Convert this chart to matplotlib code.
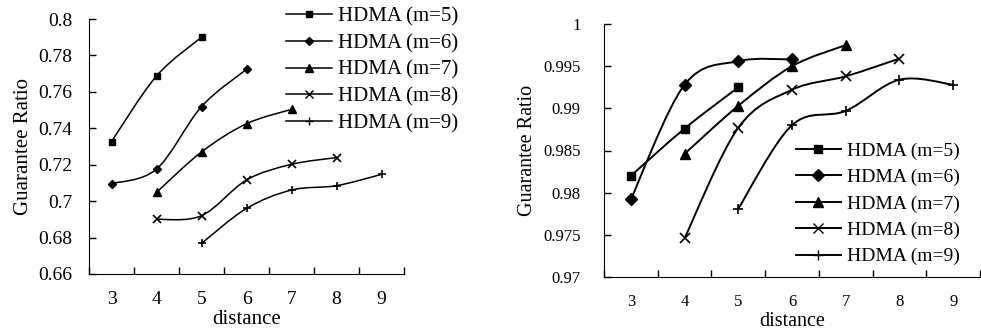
import matplotlib.pyplot as plt
from matplotlib.path import Path
from matplotlib.patches import PathPatch
from matplotlib.lines import Line2D
from matplotlib.ticker import FixedLocator, NullFormatter, FixedFormatter

plt.rcParams['font.family'] = ['Liberation Serif', 'DejaVu Serif']

# категории по оси x
distances = [3, 4, 5, 6, 7, 8, 9]
labels = ["HDMA (m=5)", "HDMA (m=6)", "HDMA (m=7)", "HDMA (m=8)", "HDMA (m=9)"]
markers = ["s", "D", "^", "x", "+"]

# левый график
left_x = [[3, 4, 5], [3, 4, 5, 6], [4, 5, 6, 7], [4, 5, 6, 7, 8], [5, 6, 7, 8, 9]]
left_y = [
    [0.7327, 0.7687, 0.7900],
    [0.7096, 0.7176, 0.7519, 0.7724],
    [0.7048, 0.7270, 0.7425, 0.7504],
    [0.6900, 0.6920, 0.7116, 0.7202, 0.7239],
    [0.6768, 0.6960, 0.7061, 0.7085, 0.7147],
]

# правый график
right_x = [[3, 4, 5], [3, 4, 5, 6], [4, 5, 6, 7], [4, 5, 6, 7, 8], [5, 6, 7, 8, 9]]
right_y = [
    [0.9820, 0.9876, 0.9925],
    [0.9792, 0.9928, 0.9956, 0.9958],
    [0.9846, 0.9903, 0.9950, 0.9975],
    [0.9746, 0.9877, 0.9922, 0.9938, 0.9959],
    [0.9781, 0.9880, 0.9897, 0.9934, 0.9928],
]


def smooth_path(xs, ys):
    """Сглаженная линия как в Excel (кривые Безье)"""
    pts = list(zip(xs, ys))
    verts = [pts[0]]
    codes = [Path.MOVETO]
    n = len(pts)
    for i in range(n - 1):
        p0 = pts[i - 1] if i > 0 else pts[i]
        p1 = pts[i]
        p2 = pts[i + 1]
        p3 = pts[i + 2] if i + 2 < n else pts[i + 1]
        c1 = (p1[0] + (p2[0] - p0[0]) / 6, p1[1] + (p2[1] - p0[1]) / 6)
        c2 = (p2[0] - (p3[0] - p1[0]) / 6, p2[1] - (p3[1] - p1[1]) / 6)
        verts += [c1, c2, p2]
        codes += [Path.CURVE4] * 3
    return Path(verts, codes)


def msz(m, base):
    return base * 1.3 if m in ("x", "+", "^") else base


def draw(ax, xs_all, ys_all, ylim, yticks, msize, tick_fs, ypad, lab_fs, lw):
    for xs, ys, m in zip(xs_all, ys_all, markers):
        ax.add_patch(PathPatch(smooth_path(xs, ys), fill=False,
                               edgecolor="black", lw=lw, zorder=2))
        mew = 1.2 if m in ("x", "+") else 1
        ax.plot(xs, ys, linestyle="none", marker=m, color="black",
                markersize=msz(m, msize), markeredgewidth=mew, zorder=3,
                clip_on=False)
    ax.set_xlim(2.5, 9.5)
    ax.set_ylim(*ylim)
    ax.spines["top"].set_visible(False)
    ax.spines["right"].set_visible(False)
    ax.xaxis.set_major_locator(FixedLocator([d + 0.5 for d in distances[:-1]]
                                            + [2.5, 9.5]))
    ax.xaxis.set_major_formatter(NullFormatter())
    ax.xaxis.set_minor_locator(FixedLocator(distances))
    ax.xaxis.set_minor_formatter(FixedFormatter([str(d) for d in distances]))
    ax.tick_params(axis="x", which="major", direction="in", length=5, width=1)
    ax.tick_params(axis="x", which="minor", length=0, labelsize=tick_fs, pad=12)
    ax.set_yticks(yticks)
    ax.set_yticklabels([("%.3f" % v).rstrip("0").rstrip(".") for v in yticks])
    ax.tick_params(axis="y", direction="in", length=5, width=1,
                   labelsize=tick_fs, pad=ypad)
    ax.set_xlabel("distance", fontsize=lab_fs, labelpad=2)
    ax.set_ylabel("Guarantee Ratio", fontsize=lab_fs, labelpad=4)


fig = plt.figure(figsize=(9.81, 3.33), dpi=100)
ax1 = fig.add_axes([89 / 981, 59 / 333, 315 / 981, 255 / 333])
ax2 = fig.add_axes([604 / 981, 56 / 333, 376 / 981, 253 / 333])

draw(ax1, left_x, left_y, (0.66, 0.8),
     [0.66, 0.68, 0.7, 0.72, 0.74, 0.76, 0.78, 0.8], 4.5, 14, 12, 15, 1.1)
draw(ax2, right_x, right_y, (0.97, 1.0),
     [0.97, 0.975, 0.98, 0.985, 0.99, 0.995, 1.0], 6, 12, 17, 14.5, 1.4)

# легенды
h1 = [Line2D([], [], color="black", lw=1.1, marker=m, markersize=msz(m, 4.5))
      for m in markers]
fig.legend(h1, labels, loc="upper left",
           bbox_to_anchor=(286 / 981, 1 - 7 / 333), frameon=False,
           fontsize=15, handlelength=2.2, handletextpad=0.28,
           labelspacing=0.34, borderpad=0, borderaxespad=0)

h2 = [Line2D([], [], color="black", lw=1.4, marker=m, markersize=msz(m, 6))
      for m in markers]
fig.legend(h2, labels, loc="upper left",
           bbox_to_anchor=(796 / 981, 1 - 142 / 333), frameon=False,
           fontsize=14, handlelength=2.3, handletextpad=0.3,
           labelspacing=0.45, borderpad=0, borderaxespad=0)

fig.savefig("out.png", dpi=100)
